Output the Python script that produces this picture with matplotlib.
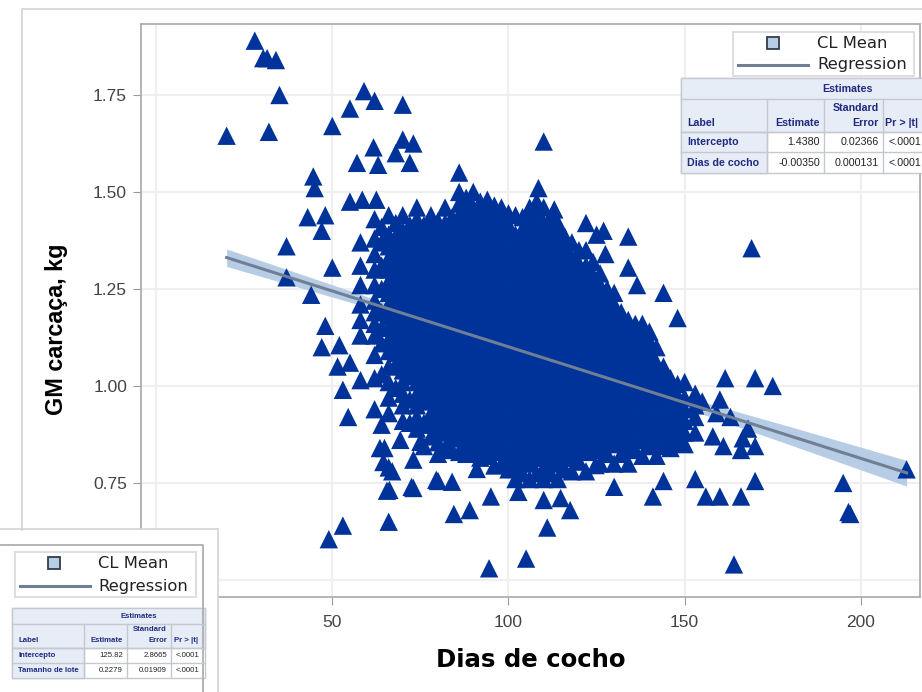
import matplotlib
matplotlib.use('Agg')
import matplotlib.pyplot as plt
from matplotlib.patches import Rectangle

# outliers
out_x = [28, 30.4, 31.5, 34, 35, 20, 32, 50, 55, 59, 62, 70, 61.7, 57, 63, 68, 70, 73, 72,
         44.6, 45, 43, 48, 47, 37, 37, 50, 44, 55, 58.5, 62.5, 86, 110, 108.5, 169, 148, 144,
         136.5, 134, 134, 48, 47, 52, 51.5, 55, 53, 58, 54.5, 49, 53, 66, 84.5, 89, 95, 94.5,
         105, 111, 117.5, 130, 65.5, 72.5, 80, 66, 63.5, 161.5, 170, 175, 155, 160, 159, 163,
         168, 166.5, 158, 161, 166, 170, 153, 144, 141, 156, 160, 166, 170, 195, 196.5, 197,
         164, 213, 66.2, 64.8, 64.5, 67, 73, 73, 69.3, 75, 79.5, 84, 91, 102.8, 110, 114.8,
         124.7, 122, 125, 127, 127.5, 113, 114]
out_y = [1.89, 1.845, 1.845, 1.84, 1.75, 1.645, 1.655, 1.67, 1.715, 1.76, 1.735, 1.725, 1.615,
         1.575, 1.57, 1.6, 1.635, 1.625, 1.575, 1.54, 1.51, 1.435, 1.44, 1.4, 1.36, 1.28, 1.305,
         1.235, 1.475, 1.48, 1.48, 1.55, 1.63, 1.51, 1.355, 1.175, 1.24, 1.26, 1.385, 1.305,
         1.155, 1.1, 1.105, 1.05, 1.06, 0.99, 1.015, 0.92, 0.605, 0.64, 0.65, 0.67, 0.68, 0.715,
         0.53, 0.555, 0.635, 0.68, 0.74, 0.73, 0.74, 0.755, 0.79, 0.84, 1.02, 1.02, 1.0, 0.96,
         0.965, 0.93, 0.92, 0.89, 0.865, 0.87, 0.845, 0.835, 0.845, 0.76, 0.755, 0.715, 0.715,
         0.715, 0.715, 0.755, 0.75, 0.675, 0.67, 0.54, 0.785, 0.732, 0.84, 0.804, 0.78, 0.737,
         0.81, 0.861, 0.856, 0.758, 0.753, 0.786, 0.727, 0.706, 0.711, 0.796, 1.42, 1.39, 1.40,
         1.34, 1.455, 1.42]

# dense cloud, estimated column by column
cloud_x = [58, 62, 64, 66, 68, 70, 72, 74, 76, 78, 80, 82, 84, 86, 88, 90, 92, 94, 96, 98, 100,
           102, 104, 106, 108, 110, 112, 114, 116, 118, 120, 122, 124, 126, 128, 130, 132, 134,
           136, 138, 140, 142, 144, 146, 148, 150, 153]
gm_58 = [1.13, 1.17, 1.21, 1.26, 1.31, 1.37]
gm_62 = [0.94, 1.02, 1.08, 1.13, 1.16, 1.19, 1.22, 1.26, 1.30, 1.34, 1.38, 1.43]
gm_64 = [0.90, 1.03, 1.11, 1.15, 1.19, 1.25, 1.31, 1.37, 1.41]
gm_66 = [0.93, 0.97, 1.01, 1.05, 1.09, 1.12, 1.15, 1.18, 1.21, 1.24, 1.27, 1.30, 1.33, 1.36, 1.39, 1.44]
gm_68 = [0.995, 1.055, 1.085, 1.115, 1.145, 1.175, 1.205, 1.235, 1.265, 1.295, 1.325, 1.355, 1.385, 1.42]
gm_70 = [0.91, 0.95, 0.98, 1.01, 1.04, 1.07, 1.10, 1.13, 1.16, 1.19, 1.22, 1.25, 1.28, 1.31, 1.34, 1.37, 1.40, 1.44]
gm_72 = [0.905, 0.965, 1.025, 1.055, 1.085, 1.115, 1.145, 1.175, 1.205, 1.235, 1.265, 1.295, 1.325, 1.355, 1.385, 1.415]
gm_74 = [0.89, 0.92, 0.95, 0.98, 1.01, 1.04, 1.07, 1.10, 1.13, 1.16, 1.19, 1.22, 1.25, 1.28, 1.31, 1.34, 1.37, 1.40, 1.43, 1.46]
gm_76 = [0.845, 0.905, 0.965, 0.995, 1.025, 1.055, 1.085, 1.115, 1.145, 1.175, 1.205, 1.235, 1.265, 1.295, 1.325, 1.355, 1.385, 1.415]
gm_78 = [0.87, 0.90, 0.93, 0.96, 0.99, 1.02, 1.05, 1.08, 1.11, 1.14, 1.17, 1.20, 1.23, 1.26, 1.29, 1.32, 1.35, 1.38, 1.41, 1.44]
gm_80 = [0.825, 0.855, 0.885, 0.915, 0.945, 0.975, 1.005, 1.035, 1.065, 1.095, 1.125, 1.155, 1.185, 1.215, 1.245, 1.275, 1.305, 1.335, 1.365, 1.395, 1.425]
gm_82 = [0.84, 0.88, 0.91, 0.94, 0.97, 1.00, 1.03, 1.06, 1.09, 1.12, 1.15, 1.18, 1.21, 1.24, 1.27, 1.30, 1.33, 1.36, 1.39, 1.42, 1.46]
gm_84 = [0.835, 0.865, 0.895, 0.925, 0.955, 0.985, 1.015, 1.045, 1.075, 1.105, 1.135, 1.165, 1.195, 1.225, 1.255, 1.285, 1.315, 1.345, 1.375, 1.405, 1.435]
gm_86 = [0.83, 0.87, 0.90, 0.93, 0.96, 0.99, 1.02, 1.05, 1.08, 1.11, 1.14, 1.17, 1.20, 1.23, 1.26, 1.29, 1.32, 1.35, 1.38, 1.41, 1.44, 1.47, 1.50]
gm_88 = [0.825, 0.855, 0.885, 0.915, 0.945, 0.975, 1.005, 1.035, 1.065, 1.095, 1.125, 1.155, 1.185, 1.215, 1.245, 1.275, 1.305, 1.335, 1.365, 1.395, 1.425, 1.455, 1.485]
gm_90 = [0.83, 0.86, 0.89, 0.92, 0.95, 0.98, 1.01, 1.04, 1.07, 1.10, 1.13, 1.16, 1.19, 1.22, 1.25, 1.28, 1.31, 1.34, 1.37, 1.40, 1.43, 1.46, 1.50]
gm_92 = [0.815, 0.845, 0.875, 0.905, 0.935, 0.965, 0.995, 1.025, 1.055, 1.085, 1.115, 1.145, 1.175, 1.205, 1.235, 1.265, 1.295, 1.325, 1.355, 1.385, 1.415, 1.445, 1.475]
gm_94 = [0.82, 0.85, 0.88, 0.91, 0.94, 0.97, 1.00, 1.03, 1.06, 1.09, 1.12, 1.15, 1.18, 1.21, 1.24, 1.27, 1.30, 1.33, 1.36, 1.39, 1.42, 1.45, 1.48]
gm_96 = [0.795, 0.835, 0.865, 0.895, 0.925, 0.955, 0.985, 1.015, 1.045, 1.075, 1.105, 1.135, 1.165, 1.195, 1.225, 1.255, 1.285, 1.315, 1.345, 1.375, 1.405, 1.435, 1.465]
gm_98 = [0.80, 0.83, 0.86, 0.89, 0.92, 0.95, 0.98, 1.01, 1.04, 1.07, 1.10, 1.13, 1.16, 1.19, 1.22, 1.25, 1.28, 1.31, 1.34, 1.37, 1.40, 1.43, 1.46]
gm_100 = [0.785, 0.815, 0.845, 0.875, 0.905, 0.935, 0.965, 0.995, 1.025, 1.055, 1.085, 1.115, 1.145, 1.175, 1.205, 1.235, 1.265, 1.295, 1.325, 1.355, 1.385, 1.415, 1.445]
gm_102 = [0.76, 0.79, 0.82, 0.85, 0.88, 0.91, 0.94, 0.97, 1.00, 1.03, 1.06, 1.09, 1.12, 1.15, 1.18, 1.21, 1.24, 1.27, 1.30, 1.33, 1.36, 1.39, 1.44]
gm_104 = [0.775, 0.805, 0.835, 0.865, 0.895, 0.925, 0.955, 0.985, 1.015, 1.045, 1.075, 1.105, 1.135, 1.165, 1.195, 1.225, 1.255, 1.285, 1.315, 1.345, 1.375, 1.405, 1.435]
gm_106 = [0.76, 0.80, 0.83, 0.86, 0.89, 0.92, 0.95, 0.98, 1.01, 1.04, 1.07, 1.10, 1.13, 1.16, 1.19, 1.22, 1.25, 1.28, 1.31, 1.34, 1.37, 1.40, 1.43, 1.46]
gm_108 = [0.775, 0.815, 0.845, 0.875, 0.905, 0.935, 0.965, 0.995, 1.025, 1.055, 1.085, 1.115, 1.145, 1.175, 1.205, 1.235, 1.265, 1.295, 1.325, 1.355, 1.385, 1.415, 1.445, 1.475]
gm_110 = [0.76, 0.79, 0.82, 0.85, 0.88, 0.91, 0.94, 0.97, 1.00, 1.03, 1.06, 1.09, 1.12, 1.15, 1.18, 1.21, 1.24, 1.27, 1.30, 1.33, 1.36, 1.39, 1.42, 1.46]
gm_112 = [0.775, 0.805, 0.835, 0.865, 0.895, 0.925, 0.955, 0.985, 1.015, 1.045, 1.075, 1.105, 1.135, 1.165, 1.195, 1.225, 1.255, 1.285, 1.315, 1.345, 1.375, 1.405, 1.435]
gm_114 = [0.76, 0.80, 0.83, 0.86, 0.89, 0.92, 0.95, 0.98, 1.01, 1.04, 1.07, 1.10, 1.13, 1.16, 1.19, 1.22, 1.25, 1.28, 1.31, 1.34, 1.37, 1.40]
gm_116 = [0.785, 0.815, 0.845, 0.875, 0.905, 0.935, 0.965, 0.995, 1.025, 1.055, 1.085, 1.115, 1.145, 1.175, 1.205, 1.235, 1.265, 1.295, 1.325, 1.355, 1.385]
gm_118 = [0.78, 0.82, 0.85, 0.88, 0.91, 0.94, 0.97, 1.00, 1.03, 1.06, 1.09, 1.12, 1.15, 1.18, 1.21, 1.24, 1.27, 1.30, 1.33, 1.37]
gm_120 = [0.805, 0.835, 0.865, 0.895, 0.925, 0.955, 0.985, 1.015, 1.045, 1.075, 1.105, 1.135, 1.165, 1.195, 1.225, 1.255, 1.285, 1.315, 1.35]
gm_122 = [0.78, 0.83, 0.86, 0.89, 0.92, 0.95, 0.98, 1.01, 1.04, 1.07, 1.10, 1.13, 1.16, 1.19, 1.22, 1.25, 1.28, 1.31, 1.35]
gm_124 = [0.835, 0.865, 0.895, 0.925, 0.955, 0.985, 1.015, 1.045, 1.075, 1.105, 1.135, 1.165, 1.195, 1.225, 1.255, 1.285, 1.32]
gm_126 = [0.80, 0.84, 0.87, 0.90, 0.93, 0.96, 0.99, 1.02, 1.05, 1.08, 1.11, 1.14, 1.17, 1.20, 1.23, 1.26, 1.29]
gm_128 = [0.825, 0.855, 0.885, 0.915, 0.945, 0.975, 1.005, 1.035, 1.065, 1.095, 1.125, 1.155, 1.185, 1.215, 1.25]
gm_130 = [0.80, 0.85, 0.88, 0.91, 0.94, 0.97, 1.00, 1.03, 1.06, 1.09, 1.12, 1.15, 1.18, 1.21, 1.24]
gm_132 = [0.825, 0.855, 0.885, 0.915, 0.945, 0.975, 1.005, 1.035, 1.065, 1.095, 1.125, 1.155, 1.19]
gm_134 = [0.80, 0.84, 0.87, 0.90, 0.93, 0.96, 0.99, 1.02, 1.05, 1.08, 1.11, 1.14, 1.17]
gm_136 = [0.835, 0.865, 0.895, 0.925, 0.955, 0.985, 1.015, 1.045, 1.075, 1.105, 1.135, 1.16]
gm_138 = [0.82, 0.86, 0.89, 0.92, 0.95, 0.98, 1.01, 1.04, 1.07, 1.10, 1.13, 1.16]
gm_140 = [0.845, 0.875, 0.905, 0.935, 0.965, 0.995, 1.025, 1.055, 1.085, 1.115, 1.14]
gm_142 = [0.82, 0.85, 0.88, 0.91, 0.94, 0.97, 1.00, 1.03, 1.06, 1.10]
gm_144 = [0.845, 0.875, 0.905, 0.935, 0.965, 0.995, 1.025, 1.05]
gm_146 = [0.84, 0.87, 0.90, 0.93, 0.96, 0.99, 1.02]
gm_148 = [0.855, 0.885, 0.915, 0.945, 0.975, 1.005]
gm_150 = [0.85, 0.88, 0.91, 0.94, 0.97, 1.01]
gm_153 = [0.88, 0.92, 0.95, 0.98]
cloud_y = [gm_58, gm_62, gm_64, gm_66, gm_68, gm_70, gm_72, gm_74, gm_76, gm_78, gm_80, gm_82,
           gm_84, gm_86, gm_88, gm_90, gm_92, gm_94, gm_96, gm_98, gm_100, gm_102, gm_104,
           gm_106, gm_108, gm_110, gm_112, gm_114, gm_116, gm_118, gm_120, gm_122, gm_124,
           gm_126, gm_128, gm_130, gm_132, gm_134, gm_136, gm_138, gm_140, gm_142, gm_144,
           gm_146, gm_148, gm_150, gm_153]

# regression line and CL band
reg_x = [20, 213]
reg_y = [1.331, 0.776]
band_x = [20, 60, 105, 150, 180, 213]
band_hi = [1.353, 1.230, 1.094, 0.972, 0.895, 0.808]
band_lo = [1.308, 1.203, 1.080, 0.943, 0.848, 0.742]

xticks = [50, 100, 150, 200]
yticks = [0.75, 1.00, 1.25, 1.50, 1.75]

# tables
tab1_rows = [['Intercepto', '1.4380', '0.02366', '<.0001'],
             ['Dias de cocho', '-0.00350', '0.000131', '<.0001']]
tab2_rows = [['Intercepto', '125.82', '2.8665', '<.0001'],
             ['Tamanho de lote', '0.2279', '0.01909', '<.0001']]

W, H = 922, 692
BLUE = '#003399'
BAND = '#b7cde6'
LINE = '#6f7f96'
HEAD = '#e6edf6'
RULE = '#c4c8cf'
NAVY = '#1f2a80'

fig = plt.figure(figsize=(W / 100, H / 100), dpi=100)
ax = fig.add_axes([141 / W, 1 - 597 / H, (920 - 141) / W, (597 - 24) / H])

ax.fill_between(band_x, band_lo, band_hi, color=BAND, lw=0, zorder=2)
for x, ys in zip(cloud_x, cloud_y):
    ax.scatter([x] * len(ys), ys, marker='^', s=175, color=BLUE, edgecolor='none', zorder=3)
ax.scatter(out_x, out_y, marker='^', s=175, color=BLUE, edgecolor='none', zorder=3)
ax.plot(reg_x, reg_y, color=LINE, lw=2.2, zorder=4)

ax.set_xlim(-4.3, 216.8)
ax.set_ylim(0.456, 1.933)
# gridlines at 0 and 0.50 stay, their labels sit under the pasted plot
ax.set_xticks([0] + xticks)
ax.set_xticklabels([''] + [str(v) for v in xticks], fontsize=12.5, family='Liberation Sans')
ax.set_yticks([0.5] + yticks)
ax.set_yticklabels([''] + ['%.2f' % v for v in yticks], fontsize=12.5, family='Liberation Sans')
ax.grid(True, color='#efefef', lw=1.5)
ax.set_axisbelow(True)
ax.tick_params(color='#999999', length=6, labelcolor='#444444')
ax.tick_params(axis='x', pad=7)
ax.tick_params(axis='y', pad=4)
for s in ax.spines.values():
    s.set_color('#a8a8a8')
    s.set_linewidth(1.2)

# overlay in pixel coordinates for the axis titles, pasted legends and tables
ov = fig.add_axes([0, 0, 1, 1], zorder=5)
ov.set_xlim(0, W)
ov.set_ylim(H, 0)
ov.axis('off')

ov.text(531, 660, 'Dias de cocho', fontsize=17.6, fontweight='bold', ha='center', va='center', color='black')
ov.text(56, 329, 'GM carcaça, kg', fontsize=16.8, fontweight='bold', family='Liberation Sans',
        rotation=90, ha='center', va='center', color='black')


def draw_legend(left, right, top, bottom, sw_x, line_l, line_r, text_x):
    ov.add_patch(Rectangle((left, top), right - left, bottom - top, fc='white', ec='#d8d8d8', lw=1.2))
    ov.add_patch(Rectangle((sw_x, top + 5), 12, 12, fc=BAND, ec='#333b4a', lw=1.3))
    ov.plot([line_l, line_r], [bottom - 11, bottom - 11], color=LINE, lw=2.2)
    ov.text(text_x, top + 11, 'CL Mean', fontsize=11.8, va='center', color='#222222')
    ov.text(text_x, bottom - 11, 'Regression', fontsize=11.8, va='center', color='#222222')


def draw_table(cols, ys, rows, fs, title_x):
    # cols and ys are the pixel rules of the table
    left, right = cols[0], cols[-1]
    ov.add_patch(Rectangle((left, ys[0]), right - left, ys[-1] - ys[0], fc='white', ec=RULE, lw=1))
    ov.add_patch(Rectangle((left, ys[0]), right - left, ys[2] - ys[0], fc=HEAD, ec=RULE, lw=1))
    ov.add_patch(Rectangle((left, ys[2]), cols[1] - left, ys[-1] - ys[2], fc=HEAD, ec=RULE, lw=1))
    for c in cols[1:-1]:
        ov.plot([c, c], [ys[1], ys[-1]], color=RULE, lw=1)
    for y in ys[1:-1]:
        ov.plot([left, right], [y, y], color=RULE, lw=1)
    font = dict(family='Liberation Sans', fontsize=fs, color=NAVY, fontweight='bold')
    ov.text(title_x, (ys[0] + ys[1]) / 2, 'Estimates', ha='center', va='center', **font)
    base = ys[2] - 4
    ov.text(left + 6, base, 'Label', va='bottom', **font)
    ov.text(cols[2] - 4, base, 'Estimate', ha='right', va='bottom', **font)
    ov.text(cols[3] - 4, base, 'Error', ha='right', va='bottom', **font)
    ov.text(cols[3] - 4, base - (ys[2] - ys[1]) * 0.45, 'Standard', ha='right', va='bottom', **font)
    ov.text(min(cols[4] - 4, cols[3] + 5 + fs * 3.9), base, 'Pr > |t|', ha='right', va='bottom', **font)
    for i, row in enumerate(rows):
        yc = (ys[i + 2] + ys[i + 3]) / 2
        ov.text(left + 6, yc, row[0], va='center', **font)
        for j in range(1, 3):
            ov.text(cols[j + 1] - 4, yc, row[j], ha='right', va='center', family='Liberation Sans',
                    fontsize=fs, color='#222222')
        ov.text(cols[3] + 5, yc, row[3], va='center', family='Liberation Sans', fontsize=fs, color='#222222')


# outer frame of the pasted plot
ov.plot([22, 22, W], [530, 9, 9], color='#d4d4d4', lw=1.2)

draw_legend(733, 914, 32, 76, 767, 738, 808, 817)
draw_table([681, 767, 824, 883, 926], [78, 99, 132, 152, 173], tab1_rows, 7.7, 847)

# second plot pasted bottom left
ov.add_patch(Rectangle((-2, 529), 220, 170, fc='white', ec='#d4d4d4', lw=1.2, zorder=0))
ov.plot([0, 203, 203], [545, 545, H], color='#a8a8a8', lw=1.2)
draw_legend(15, 196, 552, 597, 48, 20, 90, 98)
draw_table([12, 84, 127, 171, 205], [608, 624, 648, 663, 678], tab2_rows, 5.6, 139)

fig.savefig('out.png', dpi=100)
